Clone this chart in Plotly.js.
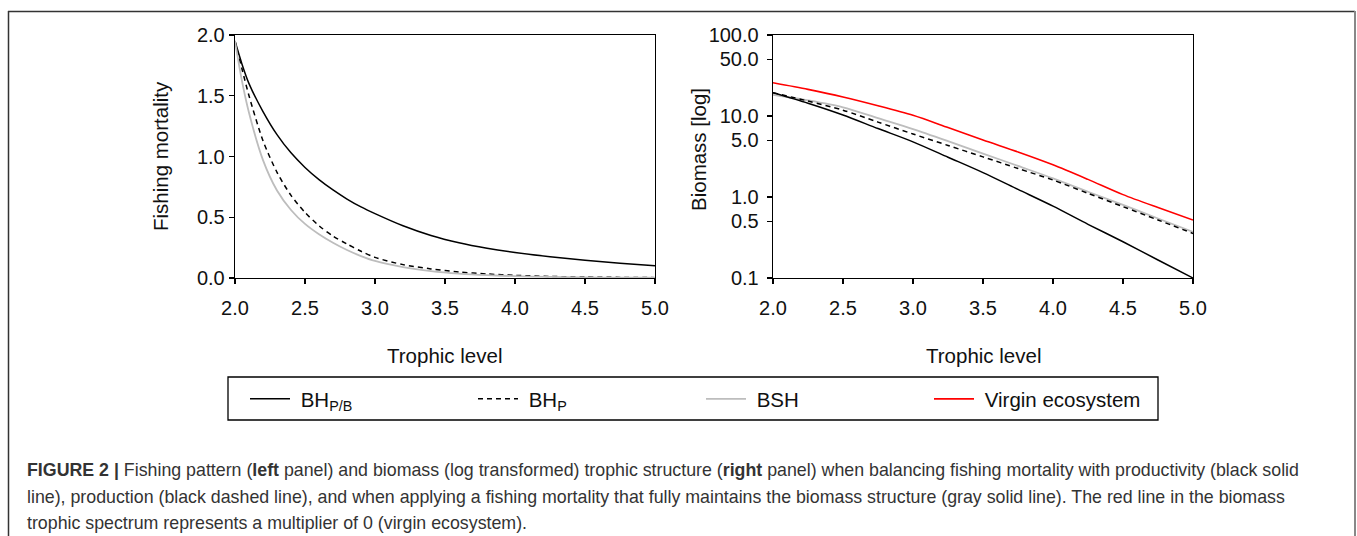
<!DOCTYPE html>
<html>
<head>
<meta charset="utf-8">
<script src="https://cdn.plot.ly/plotly-3.0.1.min.js"></script>
<style>html,body{margin:0;padding:0;background:#fff;}#chart{width:1357px;height:536px;}</style>
</head>
<body>
<div id="chart"></div>
<script>
// ---- Data ----
const tlLeft = [2.0, 2.05, 2.1, 2.2, 2.3, 2.4, 2.5, 2.6, 2.7, 2.8, 2.9, 3.0, 3.2, 3.4, 3.6, 3.8, 4.0, 4.25, 4.5, 4.75, 5.0];
const fBHPB = [1.95, 1.76, 1.60, 1.37, 1.18, 1.03, 0.91, 0.81, 0.725, 0.65, 0.585, 0.53, 0.43, 0.35, 0.29, 0.245, 0.21, 0.175, 0.146, 0.121, 0.10];
const fBHP  = [1.95, 1.72, 1.50, 1.13, 0.87, 0.68, 0.54, 0.43, 0.345, 0.28, 0.22, 0.17, 0.11, 0.075, 0.05, 0.033, 0.022, 0.013, 0.008, 0.005, 0.003];
const fBSH  = [1.95, 1.62, 1.36, 0.97, 0.72, 0.56, 0.445, 0.36, 0.29, 0.23, 0.18, 0.14, 0.09, 0.057, 0.036, 0.023, 0.015, 0.009, 0.005, 0.003, 0.002];

const tlRight = [2.0, 2.25, 2.5, 2.75, 3.0, 3.25, 3.5, 3.75, 4.0, 4.25, 4.5, 4.75, 5.0];
const bBHPB   = [19.4, 14.4, 10.3, 7.0, 4.8, 3.1, 2.0, 1.24, 0.77, 0.46, 0.28, 0.167, 0.10];
const bBHP    = [19.4, 15.3, 11.8, 8.4, 6.0, 4.33, 3.13, 2.25, 1.62, 1.11, 0.76, 0.52, 0.355];
const bBSH    = [18.3, 15.6, 12.8, 9.4, 6.9, 4.9, 3.44, 2.42, 1.70, 1.16, 0.80, 0.543, 0.37];
const bVirgin = [25.7, 21.3, 17.2, 13.4, 10.2, 7.2, 5.05, 3.6, 2.5, 1.65, 1.07, 0.74, 0.52];

const seriesNames = ['BH<sub>P/B</sub>', 'BH<sub>P</sub>', 'BSH', 'Virgin ecosystem'];
const xTicks = [2.0, 2.5, 3.0, 3.5, 4.0, 4.5, 5.0];
const yTicksLeft = [0, 0.5, 1.0, 1.5, 2.0];
const yTicksRight = [0.1, 0.5, 1, 5, 10, 50, 100];
const yTickTextRight = ['0.1', '0.5', '1.0', '5.0', '10.0', '50.0', '100.0'];
const xTitle = 'Trophic level';
const yTitleLeft = 'Fishing mortality';
const yTitleRight = 'Biomass [log]';
const captionLines = [
  '<b>FIGURE 2 |</b> Fishing pattern (<b>left</b> panel) and biomass (log transformed) trophic structure (<b>right</b> panel) when balancing fishing mortality with productivity (black solid',
  'line), production (black dashed line), and when applying a fishing mortality that fully maintains the biomass structure (gray solid line). The red line in the biomass',
  'trophic spectrum represents a multiplier of 0 (virgin ecosystem).'
];

// ---- Layout helpers ----
const W = 1357, H = 536;
const px = v => v / W;
const py = v => 1 - v / H;
const FONT = 'Liberation Sans, Arial, sans-serif';
const pad = '\u00a0';

const blackLine = {color: '#000', width: 1.5, shape: 'spline', smoothing: 0.8};
const dashLine = {color: '#000', width: 1.5, dash: '5px,4px', shape: 'spline', smoothing: 0.8};
const grayLine = {color: '#bdbdbd', width: 1.8, shape: 'spline', smoothing: 0.8};
const redLine = {color: '#ff0000', width: 1.6, shape: 'spline', smoothing: 0.8};

const traces = [
  {x: tlLeft, y: fBHPB, name: pad + seriesNames[0], mode: 'lines', line: blackLine, xaxis: 'x', yaxis: 'y', legendrank: 1},
  {x: tlLeft, y: fBHP, name: pad + seriesNames[1], mode: 'lines', line: dashLine, xaxis: 'x', yaxis: 'y', legendrank: 2},
  {x: tlLeft, y: fBSH, name: pad + seriesNames[2], mode: 'lines', line: grayLine, xaxis: 'x', yaxis: 'y', legendrank: 3},
  {x: tlRight, y: bBSH, name: seriesNames[2], mode: 'lines', line: grayLine, xaxis: 'x2', yaxis: 'y2', showlegend: false},
  {x: tlRight, y: bBHP, name: seriesNames[1], mode: 'lines', line: dashLine, xaxis: 'x2', yaxis: 'y2', showlegend: false},
  {x: tlRight, y: bBHPB, name: seriesNames[0], mode: 'lines', line: blackLine, xaxis: 'x2', yaxis: 'y2', showlegend: false},
  {x: tlRight, y: bVirgin, name: pad + seriesNames[3], mode: 'lines', line: redLine, xaxis: 'x2', yaxis: 'y2', legendrank: 4}
];

const axBase = {
  showgrid: false, zeroline: false, showline: true, linecolor: '#000', linewidth: 1.3,
  mirror: true, ticks: 'outside', ticklen: 5, tickwidth: 1.3, tickcolor: '#000',
  tickfont: {family: FONT, size: 20, color: '#111'}
};

const layout = {
  width: W, height: H,
  margin: {l: 0, r: 0, t: 0, b: 0},
  paper_bgcolor: '#fff', plot_bgcolor: '#fff',
  font: {family: FONT, color: '#111'},
  showlegend: true,
  xaxis: Object.assign({}, axBase, {domain: [px(235), px(655)], range: [2, 5], tickvals: xTicks, tickformat: '.1f', anchor: 'y', ticklabelstandoff: 7}),
  yaxis: Object.assign({}, axBase, {domain: [py(278), py(35)], range: [0, 2], tickvals: yTicksLeft, tickformat: '.1f', anchor: 'x'}),
  xaxis2: Object.assign({}, axBase, {domain: [px(773), px(1193)], range: [2, 5], tickvals: xTicks, tickformat: '.1f', anchor: 'y2', ticklabelstandoff: 7}),
  yaxis2: Object.assign({}, axBase, {domain: [py(278), py(35)], type: 'log', range: [-1, 2], tickvals: yTicksRight, ticktext: yTickTextRight, anchor: 'x2', ticklabelstandoff: 4}),
  legend: {
    orientation: 'h', x: px(245), y: py(399), xanchor: 'left', yanchor: 'middle',
    bgcolor: 'rgba(0,0,0,0)', borderwidth: 0,
    itemwidth: 40,
    entrywidth: 173, entrywidthmode: 'pixels',
    font: {family: FONT, size: 20.5, color: '#111'}
  },
  shapes: [
    {type: 'rect', xref: 'paper', yref: 'paper', x0: px(228), x1: px(1158), y0: py(377), y1: py(420), line: {color: '#000', width: 1.3}},
    {type: 'line', xref: 'paper', yref: 'paper', x0: px(8), x1: px(1355), y0: py(11.5), y1: py(11.5), line: {color: '#333', width: 1.5}},
    {type: 'line', xref: 'paper', yref: 'paper', x0: px(8.5), x1: px(8.5), y0: py(11), y1: py(560), line: {color: '#333', width: 1.5}},
    {type: 'line', xref: 'paper', yref: 'paper', x0: px(1355), x1: px(1355), y0: py(11), y1: py(560), line: {color: '#888', width: 2}}
  ],
  annotations: [
    {text: yTitleLeft, xref: 'paper', yref: 'paper', x: px(160), y: py(156), textangle: -90, showarrow: false, xanchor: 'center', yanchor: 'middle', font: {family: FONT, size: 20.5, color: '#111'}},
    {text: yTitleRight, xref: 'paper', yref: 'paper', x: px(698), y: py(150), textangle: -90, showarrow: false, xanchor: 'center', yanchor: 'middle', font: {family: FONT, size: 20.5, color: '#111'}},
    {text: xTitle, xref: 'paper', yref: 'paper', x: px(445), y: py(355), showarrow: false, xanchor: 'center', yanchor: 'middle', font: {family: FONT, size: 20.5, color: '#111'}},
    {text: xTitle, xref: 'paper', yref: 'paper', x: px(983), y: py(355), showarrow: false, xanchor: 'center', yanchor: 'middle', font: {family: FONT, size: 20.5, color: '#111'}}
  ].concat(captionLines.map((t, i) => ({
    text: t, xref: 'paper', yref: 'paper', x: px(25), y: py(470 + i * 26.5), showarrow: false,
    xanchor: 'left', yanchor: 'middle', align: 'left', font: {family: FONT, size: 17.8, color: '#333'}
  })))
};

Plotly.newPlot('chart', traces, layout, {displayModeBar: false, staticPlot: true});
</script>
</body>
</html>
